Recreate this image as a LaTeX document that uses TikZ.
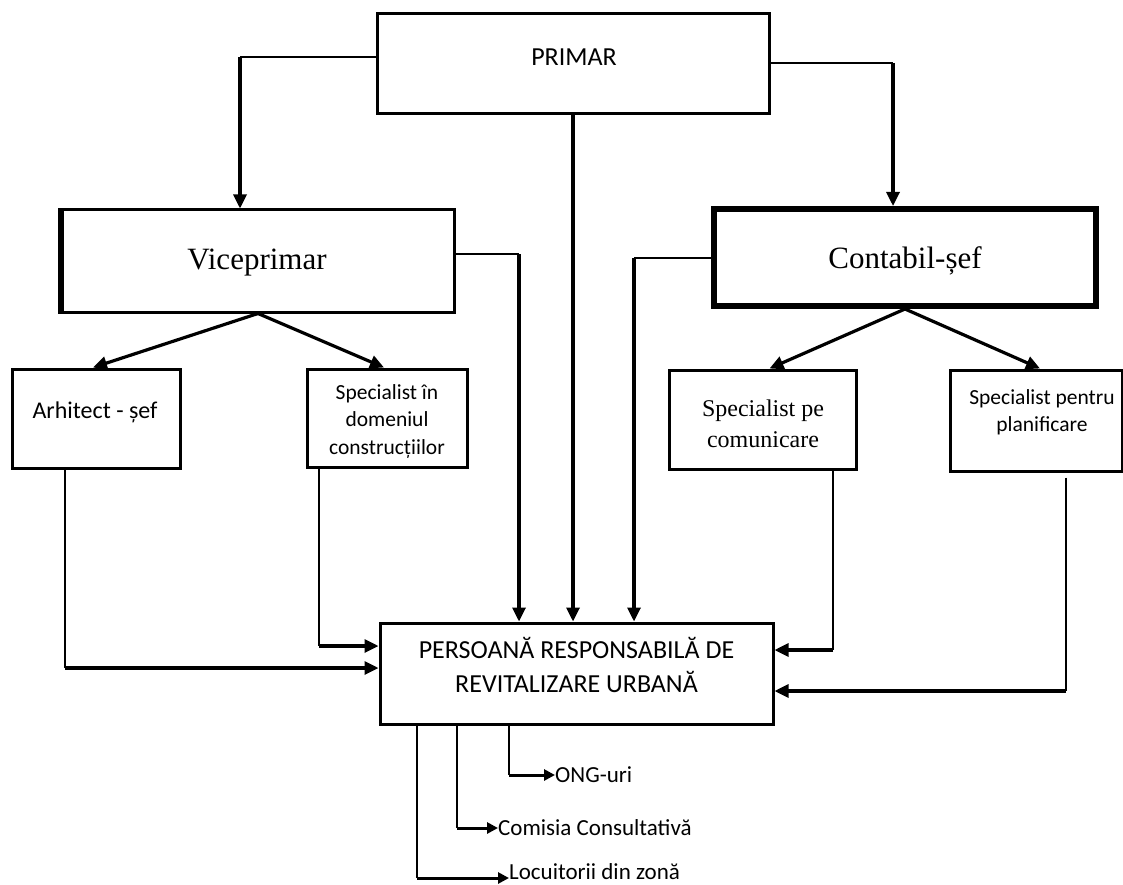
\documentclass[tikz,border=0pt]{standalone}
\usepackage{fontspec}
\setmainfont{Liberation Serif}
\newfontfamily\calib{Carlito}
\usetikzlibrary{arrows.meta}
\newcommand\sz[2]{\fontsize{#1}{#2}\selectfont}
\tikzstyle{orghead}=[>/.tip={Triangle[length=14pt,width=13pt]}]
\tikzstyle{smallhead}=[>/.tip={Triangle[length=11pt,width=11pt]}]
\tikzstyle{box}=[draw,line width=3pt,inner sep=0pt]
\tikzstyle{wire}=[line width=1.2pt]
\tikzstyle{org}=[line width=3.2pt,orghead,->]
\tikzstyle{sub}=[line width=3pt,smallhead,->]
\tikzstyle{txt}=[align=center,inner sep=0pt]

\begin{document}
\begin{tikzpicture}[x=1pt,y=-1pt]
	\useasboundingbox (0,0) rectangle (1123,885);
	\node[box,minimum width=392pt,minimum height=100pt] (primar) at (573,64) {};
	\node[box,minimum width=392pt,minimum height=102pt] (vice) at (258,261) {};
	\node[box,line width=4pt,minimum width=384pt,minimum height=99pt] (cont) at (905,257.5) {};
	\node[box,minimum width=168pt,minimum height=99pt] (arh) at (96,418.5) {};
	\node[box,minimum width=160pt,minimum height=98pt] (constr) at (387,418) {};
	\node[box,minimum width=187pt,minimum height=99pt] (com) at (762.5,419.5) {};
	\node[box,minimum width=172pt,minimum height=101pt] (plan) at (1036,420.5) {};
	\node[box,minimum width=393pt,minimum height=101pt] (pers) at (576.5,673.5) {};
	\draw[line width=5pt] (vice.north west) -- (vice.south west);
	\draw[wire] ([shift={(5pt,-5pt)}]cont.north west) rectangle ([shift={(-5pt,5pt)}]cont.south east);

	\node[txt,font=\calib\sz{26}{31}] (primar-t) at (574,57) {PRIMAR};
	\node[txt,font=\sz{31}{36}] (vice-t) at (257,263) {Viceprimar};
	\node[txt,font=\sz{31}{36}] (cont-t) at (905,261) {Contabil-șef};
	\node[txt,font=\calib\sz{24}{29}] (arh-t) at (95,412) {Arhitect - șef};
	\node[txt,font=\calib\sz{21.5}{27.5}] (constr-t) at (387,421.5) {Specialist în\\domeniul\\construcțiilor};
	\node[txt,font=\sz{24}{31}] (com-t) at (763,423.5) {Specialist pe\\comunicare};
	\node[txt,font=\calib\sz{21.5}{27}] (plan-t) at (1042,412.5) {Specialist pentru\\planificare};
	\node[txt,font=\calib\sz{26}{34}] (pers-t) at (576.5,665) {PERSOANĂ RESPONSABILĂ DE\\REVITALIZARE URBANĂ};
	\node[txt,anchor=west,font=\calib\sz{23}{28}] (ong) at (555,775) {ONG-uri};
	\node[txt,anchor=west,font=\calib\sz{23}{28}] (comisia) at (498,828) {Comisia Consultativă};
	\node[txt,anchor=west,font=\calib\sz{23}{28}] (locuit) at (509,872) {Locuitorii din zonă};

	\coordinate (pv) at (240,57);
	\coordinate (pc) at (893,63);
	\coordinate (vp) at (519,254);
	\coordinate (cp) at (634,258);
	\coordinate (ap) at (65,668);
	\coordinate (sp) at (319,646);
	\coordinate (mp) at (833,650);
	\coordinate (lp) at (1066,691);
	\coordinate (np) at (509,775);
	\coordinate (kp) at (457,828);
	\coordinate (zp) at (417,878);

	\draw[wire] (primar.west |- pv) -- (pv);
	\draw[org] (pv) -- (pv |- vice.north);
	\draw[wire] (primar.east |- pc) -- (pc);
	\draw[org] (pc) -- (pc |- cont.north);
	\draw[org] (primar.south) -- (primar.south |- pers.north);
	\draw[wire] (vice.east |- vp) -- (vp);
	\draw[org] (vp) -- (vp |- pers.north);
	\draw[wire] (cont.west |- cp) -- (cp);
	\draw[org] (cp) -- (cp |- pers.north);

	\draw[org] (vice.south) -- ([xshift=-3pt]arh.north);
	\draw[org] (vice.south) -- ([xshift=-3pt]constr.north);
	\draw[org] (cont.south) -- ([xshift=7pt]com.north);
	\draw[org] (cont.south) -- ([xshift=4pt]plan.north);

	\draw[wire] (arh.south -| ap) -- (ap);
	\draw[org] (ap) -- (ap -| pers.west);
	\draw[wire] (constr.south -| sp) -- (sp);
	\draw[org] (sp) -- (sp -| pers.west);
	\draw[wire] (com.south -| mp) -- (mp);
	\draw[org] (mp) -- (mp -| pers.east);
	\draw[wire,shorten <=5pt] (plan.south -| lp) -- (lp);
	\draw[org] (lp) -- (lp -| pers.east);

	\draw[wire] (pers.south -| np) -- (np);
	\draw[sub] (np) -- (ong.west);
	\draw[wire] (pers.south -| kp) -- (kp);
	\draw[sub] (kp) -- (comisia.west);
	\draw[wire] (pers.south -| zp) -- (zp);
	\draw[sub] (zp) -- (zp -| locuit.west);
\end{tikzpicture}
\end{document}
